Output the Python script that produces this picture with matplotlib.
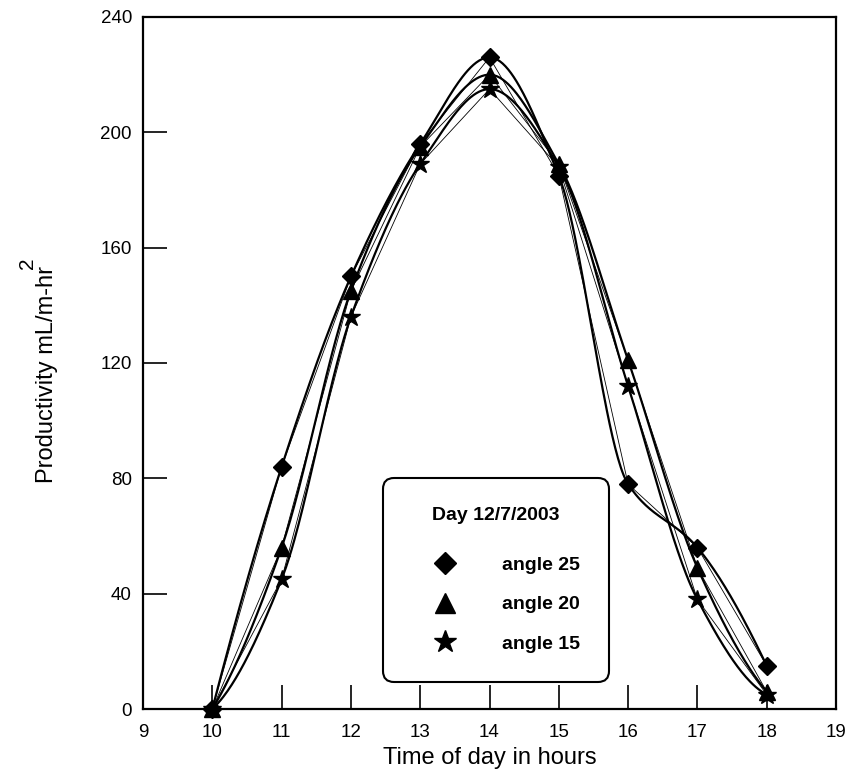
import numpy as np
import matplotlib.pyplot as plt

plt.rcParams['font.family'] = ['Liberation Sans', 'DejaVu Sans']

# time of day (hours)
hours = [10, 11, 12, 13, 14, 15, 16, 17, 18]

# productivity mL/m2-hr for each collector angle
angle_25 = [0, 84, 150, 196, 226, 185, 78, 56, 15]
angle_20 = [0, 56, 145, 195, 220, 189, 121, 49, 6]
angle_15 = [0, 45, 136, 189, 215, 188, 112, 38, 5]

series_labels = ["angle 25", "angle 20", "angle 15"]
legend_title = "Day 12/7/2003"

x_ticks = [9, 10, 11, 12, 13, 14, 15, 16, 17, 18, 19]
y_ticks = [0, 40, 80, 120, 160, 200, 240]


def pchip(x, y, xs):
    """shape preserving cubic (Fritsch-Carlson) through (x, y), evaluated at xs"""
    x = np.asarray(x, float)
    y = np.asarray(y, float)
    h = np.diff(x)
    delta = np.diff(y) / h
    n = len(x)
    m = np.zeros(n)
    for k in range(1, n - 1):
        if delta[k - 1] * delta[k] > 0:
            w1 = 2 * h[k] + h[k - 1]
            w2 = h[k] + 2 * h[k - 1]
            m[k] = (w1 + w2) / (w1 / delta[k - 1] + w2 / delta[k])

    def end_slope(h0, h1, d0, d1):
        s = ((2 * h0 + h1) * d0 - h0 * d1) / (h0 + h1)
        if np.sign(s) != np.sign(d0):
            s = 0.0
        elif np.sign(d0) != np.sign(d1) and abs(s) > abs(3 * d0):
            s = 3 * d0
        return s

    m[0] = end_slope(h[0], h[1], delta[0], delta[1])
    m[-1] = end_slope(h[-1], h[-2], delta[-1], delta[-2])

    idx = np.clip(np.searchsorted(x, xs) - 1, 0, n - 2)
    t = (xs - x[idx]) / h[idx]
    h00 = 2 * t ** 3 - 3 * t ** 2 + 1
    h10 = t ** 3 - 2 * t ** 2 + t
    h01 = -2 * t ** 3 + 3 * t ** 2
    h11 = t ** 3 - t ** 2
    return (h00 * y[idx] + h10 * h[idx] * m[idx]
            + h01 * y[idx + 1] + h11 * h[idx] * m[idx + 1])


fig = plt.figure(figsize=(8.53, 7.76), dpi=100)
ax = fig.add_axes([143 / 853, 1 - 709 / 776, 693 / 853, 692 / 776])

xs = np.linspace(hours[0], hours[-1], 400)
styles = [("D", 9), ("^", 11.5), ("*", 13.5)]
handles = []
for values, (marker, ms), label in zip([angle_25, angle_20, angle_15], styles, series_labels):
    ax.plot(hours, values, color="black", lw=0.6)
    ax.plot(xs, pchip(hours, values, xs), color="black", lw=1.6)
    h, = ax.plot(hours, values, ls="none", marker=marker, ms=ms, color="black",
                 label=label, clip_on=False, zorder=5)
    handles.append(h)

ax.set_xlim(9, 19)
ax.set_ylim(0, 240)
ax.set_xticks(x_ticks)
ax.set_yticks(y_ticks)
ax.tick_params(direction="in", length=17, width=1.2, labelsize=13.5)
ax.tick_params(axis="x", pad=11)
ax.tick_params(axis="y", pad=8)
for spine in ax.spines.values():
    spine.set_linewidth(1.6)

ax.set_xlabel("Time of day in hours", fontsize=17, labelpad=4)
ax.set_ylabel("Productivity mL/m-hr", fontsize=17)
ax.yaxis.set_label_coords(-0.122, 0.483)
fig.text(28 / 853, 1 - 263 / 776, "2", rotation=90, fontsize=15,
         ha="center", va="center")

# trailing empty line with tight spacing gives a bit more room under the title
leg = ax.legend(handles=handles, title=legend_title + "\n", loc="upper left",
                bbox_to_anchor=(383 / 853, 1 - 478 / 776), bbox_transform=fig.transFigure,
                borderaxespad=0, prop={"weight": "bold", "size": 14},
                title_fontproperties={"weight": "bold", "size": 14},
                markerscale=1.25, handlelength=3.4, handletextpad=1.2,
                borderpad=1.5, labelspacing=1.12, fancybox=True, framealpha=1,
                edgecolor="black")
leg.get_title().set_linespacing(0.5)
leg.get_frame().set_linewidth(1.5)
leg.get_frame().set_boxstyle("round,pad=0,rounding_size=0.55")

fig.savefig("out.png", dpi=100)
